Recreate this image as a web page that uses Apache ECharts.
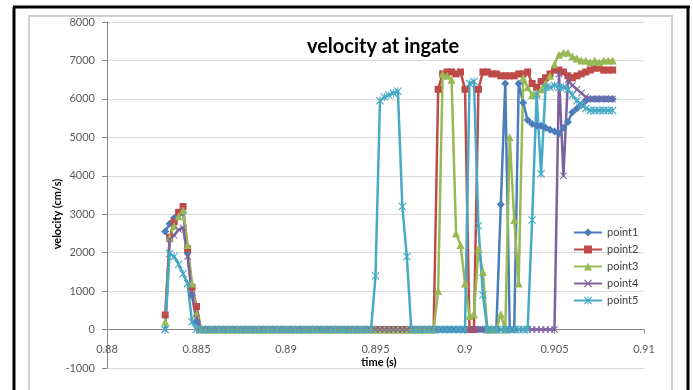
<!DOCTYPE html>
<html>
<head>
<meta charset="utf-8">
<script src="https://cdn.jsdelivr.net/npm/echarts/dist/echarts.min.js"></script>
<style>
  html, body { margin: 0; padding: 0; background: #fff; }
  #chart { width: 693px; height: 390px; }
</style>
</head>
<body>
<div id="chart"></div>
<script>
// time samples (s)
var times = [
  0.88325, 0.8835, 0.88375, 0.884, 0.88425, 0.8845, 0.88475, 0.885, 0.88525, 0.8855,
  0.88575, 0.886, 0.88625, 0.8865, 0.88675, 0.887, 0.88725, 0.8875, 0.88775, 0.888,
  0.88825, 0.8885, 0.88875, 0.889, 0.88925, 0.8895, 0.88975, 0.89, 0.89025, 0.8905,
  0.89075, 0.891, 0.89125, 0.8915, 0.89175, 0.892, 0.89225, 0.8925, 0.89275, 0.893,
  0.89325, 0.8935, 0.89375, 0.894, 0.89425, 0.8945, 0.89475, 0.895, 0.89525, 0.8955,
  0.89575, 0.896, 0.89625, 0.8965, 0.89675, 0.897, 0.89725, 0.8975, 0.89775, 0.898,
  0.89825, 0.8985, 0.89875, 0.899, 0.89925, 0.8995, 0.89975, 0.9, 0.90025, 0.9005,
  0.90075, 0.901, 0.90125, 0.9015, 0.90175, 0.902, 0.90225, 0.9025, 0.90275, 0.903,
  0.90325, 0.9035, 0.90375, 0.904, 0.90425, 0.9045, 0.90475, 0.905, 0.90525, 0.9055,
  0.90575, 0.906, 0.90625, 0.9065, 0.90675, 0.907, 0.90725, 0.9075, 0.90775, 0.908,
  0.90825
];

// velocity (cm/s), one value per time sample
var point1 = [
  2550, 2750, 2900, 3000, 3050, 2000, 900, 200, 0, 0,
  0, 0, 0, 0, 0, 0, 0, 0, 0, 0,
  0, 0, 0, 0, 0, 0, 0, 0, 0, 0,
  0, 0, 0, 0, 0, 0, 0, 0, 0, 0,
  0, 0, 0, 0, 0, 0, 0, 0, 0, 0,
  0, 0, 0, 0, 0, 0, 0, 0, 0, 0,
  0, 0, 0, 0, 0, 0, 0, 0, 0, 0,
  0, 0, 0, 0, 0, 3250, 6400, 0, 0, 6400,
  5900, 5450, 5350, 5300, 5300, 5250, 5200, 5150, 5100, 5250,
  5400, 5650, 5750, 5850, 5950, 6000, 6000, 6000, 6000, 6000,
  6000
];
var point2 = [
  380, 2400, 2800, 3050, 3200, 2100, 1100, 600, 0, 0,
  0, 0, 0, 0, 0, 0, 0, 0, 0, 0,
  0, 0, 0, 0, 0, 0, 0, 0, 0, 0,
  0, 0, 0, 0, 0, 0, 0, 0, 0, 0,
  0, 0, 0, 0, 0, 0, 0, 0, 0, 0,
  0, 0, 0, 0, 0, 0, 0, 0, 0, 0,
  0, 6250, 6650, 6700, 6700, 6650, 6700, 6250, 0, 0,
  6250, 6700, 6700, 6650, 6650, 6600, 6600, 6600, 6600, 6650,
  6650, 6700, 6400, 6300, 6450, 6550, 6650, 6750, 6750, 6700,
  6600, 6550, 6600, 6650, 6700, 6750, 6800, 6800, 6750, 6750,
  6750
];
var point3 = [
  200, 2400, 2700, 2950, 3100, 2200, 1200, 400, 0, 0,
  0, 0, 0, 0, 0, 0, 0, 0, 0, 0,
  0, 0, 0, 0, 0, 0, 0, 0, 0, 0,
  0, 0, 0, 0, 0, 0, 0, 0, 0, 0,
  0, 0, 0, 0, 0, 0, 0, 0, 0, 0,
  0, 0, 0, 0, 0, 0, 0, 0, 0, 0,
  0, 1000, 6650, 6600, 6500, 2500, 2200, 1200, 350, 400,
  2100, 1500, 0, 0, 0, 400, 0, 5000, 2850, 1200,
  6550, 6300, 6100, 6150, 6250, 6400, 6600, 6900, 7150, 7200,
  7200, 7100, 7050, 7000, 7000, 6950, 7000, 6950, 7000, 7000,
  7000
];
var point4 = [
  0, 2350, 2450, 2600, 2650, 1900, 900, 300, 0, 0,
  0, 0, 0, 0, 0, 0, 0, 0, 0, 0,
  0, 0, 0, 0, 0, 0, 0, 0, 0, 0,
  0, 0, 0, 0, 0, 0, 0, 0, 0, 0,
  0, 0, 0, 0, 0, 0, 0, 0, 0, 0,
  0, 0, 0, 0, 0, 0, 0, 0, 0, 0,
  0, 0, 0, 0, 0, 0, 0, 0, 0, 0,
  0, 0, 0, 0, 0, 0, 0, 0, 0, 0,
  0, 0, 0, 0, 0, 0, 0, 0, 6650, 4000,
  6500, 6350, 6250, 6150, 6050, 6000, 6000, 6000, 6000, 6000,
  6000
];
var point5 = [
  0, 1980, 1900, 1700, 1450, 1200, 200, 0, 0, 0,
  0, 0, 0, 0, 0, 0, 0, 0, 0, 0,
  0, 0, 0, 0, 0, 0, 0, 0, 0, 0,
  0, 0, 0, 0, 0, 0, 0, 0, 0, 0,
  0, 0, 0, 0, 0, 0, 0, 1400, 5950, 6050,
  6100, 6150, 6200, 3200, 1900, 0, 0, 0, 0, 0,
  0, 0, 0, 0, 0, 0, 0, 0, 6400, 6450,
  2700, 900, 0, 0, 0, 0, 0, 0, 0, 0,
  0, 0, 2850, 6100, 4050, 6300, 6300, 6350, 6300, 6300,
  6250, 6100, 5950, 5850, 5750, 5700, 5700, 5700, 5700, 5700,
  5700
];

var seriesNames = ['point1', 'point2', 'point3', 'point4', 'point5'];
var seriesValues = [point1, point2, point3, point4, point5];

// excel 2007 palette
var colors = ['#4A7EBB', '#BE4B48', '#98B954', '#7D60A0', '#46AAC5'];
var xMark = 'path://M0,1 L1,0 L5,4 L9,0 L10,1 L6,5 L10,9 L9,10 L5,6 L1,10 L0,9 L4,5 Z';
var starMark = 'path://M0,1 L1,0 L5,4 L9,0 L10,1 L6,5 L10,9 L9,10 L5,6 L1,10 L0,9 L4,5 Z M4.4,0 L5.6,0 L5.6,10 L4.4,10 Z';
var symbols = ['diamond', 'rect', 'triangle', xMark, starMark];
var sizes = [8, 7, 8, 7, 8];

var font = 'Lato, "Open Sans", sans-serif';

var chart = echarts.init(document.getElementById('chart'));

var series = seriesNames.map(function (name, k) {
  return {
    name: name,
    type: 'line',
    data: times.map(function (t, i) { return [t, seriesValues[k][i]]; }),
    symbol: symbols[k],
    symbolSize: sizes[k],
    showAllSymbol: true,
    lineStyle: { color: colors[k], width: 2.5 },
    itemStyle: { color: colors[k], borderColor: colors[k], borderWidth: 0 },
    emphasis: { disabled: true }
  };
});

// plot area: y from -1000 to 8000 over 346px, x axis sits on the 0 line
var gridTop = 22, gridBottom = 22;
var plotH = 390 - gridTop - gridBottom;

var option = {
  animation: false,
  color: colors,
  grid: { left: 107, right: 49, top: gridTop, bottom: gridBottom },
  xAxis: {
    type: 'value',
    min: 0.88, max: 0.91, interval: 0.005,
    offset: -plotH / 9,
    axisLine: { onZero: false, lineStyle: { color: '#868686', width: 1 } },
    axisTick: { show: true, length: 4, lineStyle: { color: '#868686' } },
    axisLabel: {
      margin: 14, color: '#595959', fontSize: 11, fontFamily: font,
      formatter: function (v) { return String(+v.toFixed(3)); }
    },
    splitLine: { show: false }
  },
  yAxis: {
    type: 'value',
    min: -1000, max: 8000, interval: 1000,
    axisLine: { show: true, lineStyle: { color: '#868686', width: 1 } },
    axisTick: { show: true, length: 5, lineStyle: { color: '#868686' } },
    axisLabel: {
      margin: 12, color: '#595959', fontSize: 11, fontFamily: font,
      formatter: function (v) { return String(v); }
    },
    splitLine: { lineStyle: { color: '#D9D9D9', width: 1 } }
  },
  legend: {
    orient: 'vertical',
    left: 568, top: 222,
    itemWidth: 28, itemHeight: 10, itemGap: 6,
    textStyle: { color: '#404040', fontSize: 11, fontFamily: font },
    data: seriesNames
  },
  graphic: [
    // frame
    { type: 'line', shape: { x1: 14, y1: 7, x2: 14, y2: 390 }, style: { stroke: '#000', lineWidth: 3 } },
    { type: 'line', shape: { x1: 13, y1: 7, x2: 690, y2: 7 }, style: { stroke: '#000', lineWidth: 3 } },
    { type: 'line', shape: { x1: 688, y1: 7, x2: 688, y2: 390 }, style: { stroke: '#000', lineWidth: 3 } },
    { type: 'rect', shape: { x: 29, y: 16, width: 643, height: 380 }, style: { fill: 'none', stroke: '#D0D0D0', lineWidth: 2 } },
    // titles
    { type: 'text', x: 383, y: 47, style: { text: 'velocity at ingate', font: 'bold 20px ' + font, fill: '#000', textAlign: 'center', textVerticalAlign: 'middle' } },
    { type: 'text', x: 57, y: 214, rotation: Math.PI / 2, style: { text: 'velocity (cm/s)', font: 'bold 11px ' + font, fill: '#000', textAlign: 'center', textVerticalAlign: 'middle' } },
    { type: 'text', x: 379, y: 362, style: { text: 'time (s)', font: 'bold 11px ' + font, fill: '#000', textAlign: 'center', textVerticalAlign: 'middle' } }
  ],
  series: series
};

chart.setOption(option);
</script>
</body>
</html>
